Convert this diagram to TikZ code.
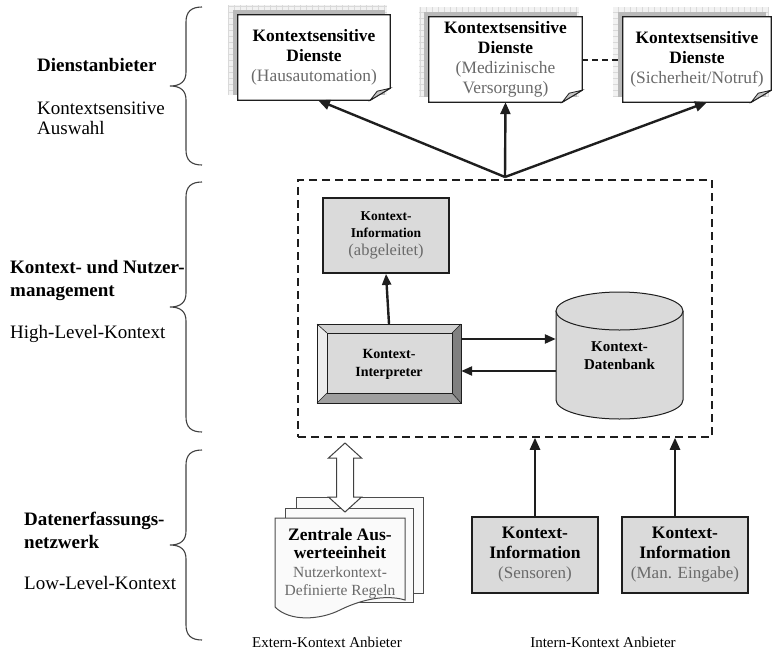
\documentclass[tikz,border=0pt]{standalone}
\usepackage{fontspec}
\setmainfont{Liberation Serif}
\usetikzlibrary{arrows.meta,backgrounds}

\definecolor{kastengrau}{HTML}{DADADA}
\definecolor{textgrau}{HTML}{6A6A6A}
\definecolor{linie}{HTML}{1E1E1E}

\tikzset{
  pfeil/.style={line width=2.4pt, draw=linie, -{Triangle[length=12pt,width=10pt]}},
  kpfeil/.style={line width=2.4pt, draw=linie, -{Triangle[length=11pt,width=9pt]}},
  kasten/.style={draw=linie, line width=1.8pt, fill=kastengrau, align=center, inner sep=0pt},
  blatt/.style={align=center, inner sep=0pt, minimum height=85pt, font=\fontsize{17.4}{20}\selectfont},
  seite/.style={align=left, anchor=west, inner sep=0pt, font=\fontsize{19}{20}\selectfont},
  klammerlinie/.style={line width=1.1pt, draw=black!75},
}

% brace: top, tip, bottom
\newcommand{\klammer}[3]{%
  \draw[klammerlinie] (202,#1) .. controls (191,#1) and (186,#1+5) .. (186,#1+15)
    -- (186,#2-14) .. controls (186,#2-5) and (181,#2) .. (170,#2)
    .. controls (181,#2) and (186,#2+5) .. (186,#2+14)
    -- (186,#3-15) .. controls (186,#3-5) and (191,#3) .. (202,#3);
}

% sheet with shadow and folded corner around a node
\newcommand{\dienstblatt}[1]{%
  \begin{pgfonlayer}{background}
    \fill[gray!10] ([shift={(-10pt,10pt)}]#1.north west) rectangle ([shift={(-3pt,5pt)}]#1.south east);
    \draw[gray!30, line width=0.3pt, step=6pt] ([shift={(-10pt,10pt)}]#1.north west) grid ([shift={(-3pt,5pt)}]#1.south east);
    \fill[gray!55] ([shift={(-5pt,5pt)}]#1.north west) rectangle ([shift={(-5pt,5pt)}]#1.south east);
    \filldraw[fill=white, draw=linie, line width=1.3pt] (#1.north west) -- (#1.north east)
      -- ([yshift=12pt]#1.south east) -- ([xshift=-20pt]#1.south east) -- (#1.south west) -- cycle;
    \filldraw[fill=gray!45, draw=linie, line width=0.8pt] ([yshift=12pt]#1.south east)
      -- ([shift={(-13pt,9pt)}]#1.south east) -- ([xshift=-20pt]#1.south east) -- cycle;
  \end{pgfonlayer}
}

\begin{document}
\begin{tikzpicture}[x=1pt, y=-1pt]
  \useasboundingbox (0,0) rectangle (772,651);

  % Left column
  \klammer{7}{86}{165}
  \klammer{182}{307}{432}
  \klammer{450}{545}{640}

  \node[seite] (anbieter) at (37,65) {\textbf{Dienstanbieter}};
  \node[seite] (auswahl) at (37,118) {Kontextsensitive\\Auswahl};
  \node[seite, font=\fontsize{19}{23}\selectfont] (nutzer) at (10,280.5) {\textbf{Kontext- und Nutzer-}\\\textbf{management}};
  \node[seite] (highlevel) at (10,334) {High-Level-Kontext};
  \node[seite, font=\fontsize{19}{23}\selectfont] (erfassung) at (24,530.5) {\textbf{Datenerfassungs-}\\\textbf{netzwerk}};
  \node[seite] (lowlevel) at (24,583) {Low-Level-Kontext};

  % Services
  \node[blatt, minimum width=152pt] (dienst1) at (314,57.5)
    {\textbf{Kontextsensitive}\\\textbf{Dienste}\\\textcolor{textgrau}{(Hausautomation)}};
  \node[blatt, minimum width=153pt] (dienst2) at (505.5,59.5)
    {\textbf{Kontextsensitive}\\\textbf{Dienste}\\\textcolor{textgrau}{(Medizinische}\\\textcolor{textgrau}{Versorgung)}};
  \node[blatt, minimum width=148pt] (dienst3) at (697,59.5)
    {\textbf{Kontextsensitive}\\\textbf{Dienste}\\\textcolor{textgrau}{(Sicherheit/Notruf)}};
  \dienstblatt{dienst1}
  \dienstblatt{dienst2}
  \dienstblatt{dienst3}
  \draw[line width=2pt, draw=linie, dash pattern=on 6pt off 4pt] (dienst2.east) -- (dienst3.west);

  % Management
  \node[draw=linie, line width=1.5pt, dash pattern=on 8pt off 5pt, minimum width=414pt, minimum height=257pt] (verwaltung) at (505,308.5) {};
  \coordinate (gabel) at (505,177);
  \draw[pfeil] (gabel) -- ([xshift=4pt]dienst1.south);
  \draw[pfeil] (gabel) -- (dienst2.south);
  \draw[pfeil] (gabel) -- ([xshift=10pt]dienst3.south);

  \node[kasten, minimum width=126pt, minimum height=75pt, font=\fontsize{13.5}{17}\selectfont] (abgeleitet) at (386,235.5)
    {\textbf{Kontext-}\\\textbf{Information}\\[1pt]{\fontsize{16.5}{18}\selectfont\textcolor{textgrau}{(abgeleitet)}}};

  % Interpreter (bevelled)
  \fill[kastengrau] (327,333) rectangle (452,393);
  \fill[gray!15] (317,324) -- (327,333) -- (327,393) -- (317,403) -- cycle;
  \fill[gray!35] (317,324) -- (461,324) -- (452,333) -- (327,333) -- cycle;
  \fill[black!50] (461,324) -- (461,403) -- (452,393) -- (452,333) -- cycle;
  \fill[gray!75] (317,403) -- (461,403) -- (452,393) -- (327,393) -- cycle;
  \draw[linie, line width=0.8pt] (317,324) rectangle (461,403);
  \draw[linie, line width=0.8pt] (327,333) rectangle (452,393);
  \draw[linie, line width=0.6pt] (317,324) -- (327,333) (461,324) -- (452,333) (317,403) -- (327,393) (461,403) -- (452,393);
  \node[align=center, inner sep=0pt, minimum width=144pt, minimum height=79pt, font=\fontsize{14}{18}\selectfont] (interpreter) at (389,363.5)
    {\raisebox{7pt}{\begin{tabular}{@{}c@{}}\textbf{Kontext-}\\\textbf{Interpreter}\end{tabular}}};

  % Database
  \fill[kastengrau] (556,311) rectangle (683,400);
  \fill[kastengrau] (619.5,400) ellipse [x radius=63.5pt, y radius=19pt];
  \draw[linie, line width=1pt] (556,311) -- (556,400) arc[start angle=180, end angle=360, x radius=63.5pt, y radius=19pt] -- (683,311);
  \filldraw[fill=kastengrau, draw=linie, line width=1pt] (619.5,311) ellipse [x radius=63.5pt, y radius=19pt];
  \node[align=center, inner sep=0pt, minimum width=127pt, minimum height=127pt, font=\fontsize{15}{18}\selectfont] (datenbank) at (619.5,355.5)
    {\textbf{Kontext-}\\\textbf{Datenbank}};

  \draw[kpfeil] (interpreter.north) -- (abgeleitet.south);
  \draw[kpfeil] ([yshift=16.5pt]datenbank.west -| interpreter.east) -- ([yshift=16.5pt]datenbank.west);
  \draw[kpfeil] ([yshift=-15.5pt]datenbank.west) -- ([yshift=-15.5pt]datenbank.west -| interpreter.east);

  % External provider (stacked sheets)
  \filldraw[fill=gray!4, draw=black!70, line width=1pt] (296,497) rectangle (423,593);
  \filldraw[fill=gray!4, draw=black!70, line width=1pt] (285,508) rectangle (413,602);
  \filldraw[fill=gray!4, draw=black!70, line width=1pt] (275,607) -- (275,518) -- (405,518) -- (405,600)
    .. controls (385,594) and (360,600) .. (340,610) .. controls (320,620) and (290,622) .. (275,607);
  \coordinate (pfeiloben) at (345,443);
  \filldraw[fill=white, draw=black!75, line width=1pt] (pfeiloben) -- ++(16.5,15) -- ++(-8,0) -- ++(0,39) -- ++(8,0)
    -- ++(-16.5,15) -- ++(-16.5,-15) -- ++(8,0) -- ++(0,-39) -- ++(-8,0) -- cycle;
  \node[align=center, inner sep=0pt, font=\fontsize{17.5}{18}\selectfont] (zentrale) at (340,564)
    {\textbf{Zentrale Aus-}\\\textbf{werteeinheit}\\[1pt]{\fontsize{15.5}{19}\selectfont\textcolor{textgrau}{Nutzerkontext-}}\\{\fontsize{15.5}{19}\selectfont\textcolor{textgrau}{Definierte Regeln}}};

  % Internal providers
  \node[kasten, minimum width=126pt, minimum height=76pt, font=\fontsize{17.5}{20}\selectfont] (sensoren) at (535,555)
    {\textbf{Kontext-}\\\textbf{Information}\\{\fontsize{17}{20}\selectfont\textcolor{textgrau}{(Sensoren)}}};
  \node[kasten, minimum width=126pt, minimum height=76pt, font=\fontsize{17.5}{20}\selectfont] (eingabe) at (685,555)
    {\textbf{Kontext-}\\\textbf{Information}\\{\fontsize{17}{20}\selectfont\textcolor{textgrau}{(Man. Eingabe)}}};
  \draw[pfeil] (sensoren.north) -- (sensoren.north |- verwaltung.south);
  \draw[pfeil] ([xshift=-10pt]eingabe.north) -- ([xshift=-10pt]eingabe.north |- verwaltung.south);

  \node[font=\fontsize{15}{18}\selectfont, inner sep=0pt] (extern) at (327,642) {Extern-Kontext Anbieter};
  \node[font=\fontsize{15}{18}\selectfont, inner sep=0pt] (intern) at (603,642) {Intern-Kontext Anbieter};

\end{tikzpicture}
\end{document}
